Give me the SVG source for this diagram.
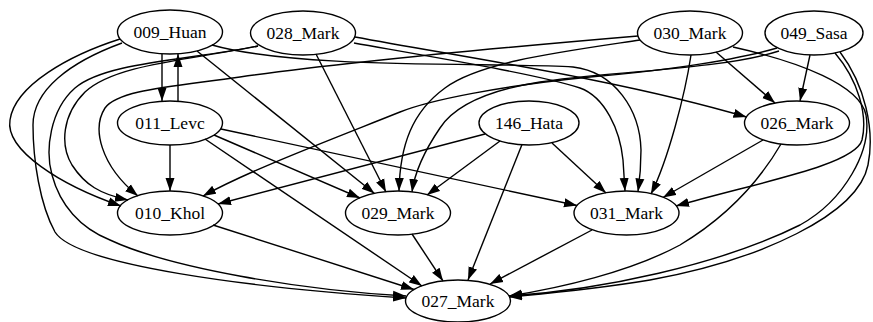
<svg xmlns="http://www.w3.org/2000/svg" width="873" height="322" viewBox="0 0 873 322">
<defs>
<marker id="ah" markerWidth="13" markerHeight="10" refX="13" refY="5" orient="auto" markerUnits="userSpaceOnUse"><path d="M0,0.5 L13,5 L0,9.5 z" fill="#000"/></marker>
</defs>
<style>
.node ellipse{fill:none;stroke:#000;stroke-width:1.4}
.node text{font-family:'Liberation Serif','Times New Roman',serif;font-size:17.5px;text-anchor:middle;fill:#000}
#edges path{fill:none;stroke:#000;stroke-width:1.4;marker-end:url(#ah)}
</style>
<rect width="873" height="322" fill="#fff"/>
<g id="edges">
<path d="M162,54 L162,101"/>
<path d="M178,101 L178,54"/>
<path d="M120,39 C70,55 15,85 10,120 C5,150 60,185 121,206"/>
<path d="M122,43 C70,62 33,90 33,125 C33,160 40,205 55,232 C75,265 250,288 406,298"/>
<path d="M197,51 L374.5,193.5"/>
<path d="M212,45 C300,70 500,62 573,67 C615,72 640,110 641,150 C641,165 640,178 638,191.5"/>
<path d="M258,46 C190,60 115,64 85,92 C62,115 60,145 72,165 C85,185 100,194 128,200"/>
<path d="M258,46 C190,60 105,62 75,88 C50,110 45,150 52,175 C60,205 80,228 110,240 C170,268 300,290 406,296"/>
<path d="M316,54 L386,192"/>
<path d="M354,43 C450,60 540,75 580,88 C605,97 620,130 623,160 L625,191"/>
<path d="M355,37 C480,60 620,80 746.5,117"/>
<path d="M638,36 C520,46 360,60 240,77 C170,87 118,90 105,108 C92,128 100,165 138,196"/>
<path d="M640,40 C560,52 480,62 445,88 C412,112 400,145 399,191"/>
<path d="M691,55 C685,95 668,160 651,194"/>
<path d="M716,52 L775,103"/>
<path d="M733,47 C800,62 860,85 866,115 C872,150 845,200 800,225 C720,265 600,290 509,296"/>
<path d="M777,48 C730,62 650,72 590,77 C500,86 430,100 400,112 C330,140 250,170 203,196"/>
<path d="M779,51 C720,70 600,72 540,82 C490,90 455,105 440,128 C425,150 415,170 412,192"/>
<path d="M810,55 L800,101"/>
<path d="M835,53 C858,80 868,115 862,140 C855,165 760,182 676,206"/>
<path d="M840,52 C865,85 875,130 868,165 C858,215 760,260 650,280 C590,290 540,294 509,297"/>
<path d="M170,145 L170,191"/>
<path d="M214,135 L360,198"/>
<path d="M221,129 L577,205.5"/>
<path d="M205,139 L422,286"/>
<path d="M485,134 L218,204"/>
<path d="M500,141 L427,195"/>
<path d="M552,143 L606,193"/>
<path d="M522,144.5 L468,280"/>
<path d="M763,140 L663,197.5"/>
<path d="M781,144 C760,180 730,215 680,245 C630,272 560,288 509,296"/>
<path d="M213,225 L414,289.5"/>
<path d="M412,234 L443,281"/>
<path d="M592,230 L490,284"/>
</g>
<g id="n009" class="node"><ellipse cx="170" cy="32" rx="52.5" ry="22"/><text x="170" y="38">009_Huan</text></g>
<g id="n028" class="node"><ellipse cx="303" cy="33" rx="52.5" ry="22"/><text x="303" y="39">028_Mark</text></g>
<g id="n030" class="node"><ellipse cx="690" cy="33" rx="52.5" ry="22"/><text x="690" y="39">030_Mark</text></g>
<g id="n049" class="node"><ellipse cx="814" cy="33" rx="49" ry="22"/><text x="814" y="39">049_Sasa</text></g>
<g id="n011" class="node"><ellipse cx="170" cy="123" rx="52.5" ry="22"/><text x="170" y="129">011_Levc</text></g>
<g id="n146" class="node"><ellipse cx="529" cy="123" rx="50" ry="22"/><text x="529" y="129">146_Hata</text></g>
<g id="n026" class="node"><ellipse cx="797" cy="123" rx="52.5" ry="22"/><text x="797" y="129">026_Mark</text></g>
<g id="n010" class="node"><ellipse cx="170" cy="213" rx="52.5" ry="22"/><text x="170" y="219">010_Khol</text></g>
<g id="n029" class="node"><ellipse cx="398" cy="213" rx="52.5" ry="22"/><text x="398" y="219">029_Mark</text></g>
<g id="n031" class="node"><ellipse cx="626.5" cy="213" rx="52.5" ry="22"/><text x="626.5" y="219">031_Mark</text></g>
<g id="n027" class="node"><ellipse cx="458" cy="301" rx="52.5" ry="21"/><text x="458" y="307">027_Mark</text></g>
</svg>
